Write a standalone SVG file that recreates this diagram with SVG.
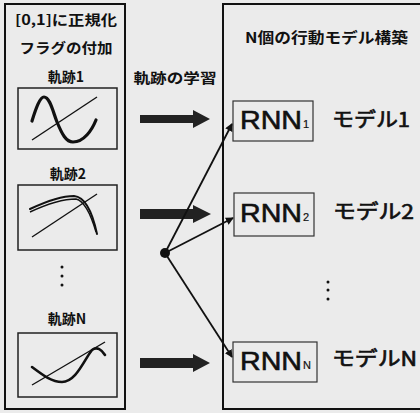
<svg xmlns="http://www.w3.org/2000/svg" width="420" height="413" viewBox="0 0 420 413">
<defs>
<style>
.frame{fill:none;stroke:#111;stroke-width:2}
.inner{fill:none;stroke:#222;stroke-width:1.5}
.rnnbox{fill:none;stroke:#333;stroke-width:1.2}
.lbl{font-family:"Noto Sans CJK JP","Liberation Sans",sans-serif;font-weight:bold;fill:#111}
.rnn{font-family:"Liberation Sans",Arial,sans-serif;fill:#111;stroke:#111;stroke-width:0.6}
.model{font-family:"Noto Sans CJK JP","Liberation Sans",sans-serif;font-weight:normal;fill:#111;stroke:#111;stroke-width:0.7;font-size:20px}
.thick{fill:none;stroke:#111;stroke-width:3.2;stroke-linecap:round}
.thin{fill:none;stroke:#111;stroke-width:1.4}
.conn{fill:none;stroke:#111;stroke-width:1.8}
.big{fill:#222}
</style>
<marker id="ah" markerWidth="8" markerHeight="8" refX="7" refY="4" orient="auto" markerUnits="userSpaceOnUse">
<path d="M0,0 L8,4 L0,8 Z" fill="#111"/>
</marker>
</defs>
<rect width="420" height="413" fill="#ebebeb"/>

<g id="left-panel">
<rect class="frame" x="5" y="4" width="120" height="405"/>
<text class="lbl" x="66" y="25" font-size="14" text-anchor="middle" textLength="102" lengthAdjust="spacingAndGlyphs">[0,1]に正規化</text>
<text class="lbl" x="66" y="53" font-size="14" text-anchor="middle" textLength="93" lengthAdjust="spacingAndGlyphs">フラグの付加</text>
</g>

<g id="traj1">
<text class="lbl" x="66" y="82" font-size="14" text-anchor="middle">軌跡1</text>
<rect class="inner" x="18" y="88" width="99" height="61"/>
<path class="thick" d="M32,121 C36,108 40,97 44,97 C50,97 53,112 57,122 C62,134 66,142 73,142 C84,142 92,130 96,120"/>
<path class="thin" d="M32,140 L97,97"/>
</g>

<g id="traj2">
<text class="lbl" x="68" y="179" font-size="14" text-anchor="middle">軌跡2</text>
<rect class="inner" x="18" y="185" width="99" height="65"/>
<path class="thick" style="stroke-width:2" d="M30,209 C45,202 62,196 74,196 C86,197 93,215 97,234"/>
<path class="thin" d="M30,212 C45,205 62,199 76,199 C85,201 91,215 96,232"/>
<path class="thin" d="M32,237 L97,194"/>
</g>

<g id="dots-left" fill="#111">
<circle cx="62" cy="267" r="1.5"/>
<circle cx="62" cy="276" r="1.5"/>
<circle cx="62" cy="285" r="1.5"/>
</g>

<g id="trajN">
<text class="lbl" x="67" y="324" font-size="14" text-anchor="middle">軌跡N</text>
<rect class="inner" x="18" y="333" width="99" height="64"/>
<path class="thick" style="stroke-width:2.6" d="M32,367 C44,376 52,382 62,382 C76,382 84,360 92,350 C97,346 102,350 105,355"/>
<path class="thin" d="M32,385 L105,342"/>
</g>

<g id="learning">
<text class="lbl" x="175" y="83" font-size="14" text-anchor="middle" textLength="83" lengthAdjust="spacingAndGlyphs">軌跡の学習</text>
<polygon class="big" points="140,115 193,115 193,110 210,119 193,128 193,123 140,123"/>
<polygon class="big" points="140,209 193,209 193,205 211,214 193,223 193,219 140,219"/>
<polygon class="big" points="140,358 193,358 193,354 210,363 193,372 193,368 140,368"/>
</g>

<g id="right-panel">
<rect class="frame" x="223" y="4" width="200" height="405"/>
<text class="lbl" x="245" y="43" font-size="15" textLength="163" lengthAdjust="spacingAndGlyphs">N個の行動モデル構築</text>
</g>

<g id="connectors">
<circle cx="165" cy="253" r="5" fill="#111"/>
<line class="conn" x1="165" y1="253" x2="232" y2="124" marker-end="url(#ah)"/>
<line class="conn" x1="165" y1="253" x2="233" y2="218" marker-end="url(#ah)"/>
<line class="conn" x1="165" y1="253" x2="232" y2="357" marker-end="url(#ah)"/>
</g>

<g id="rnn1">
<rect class="rnnbox" x="233" y="101" width="80" height="40"/>
<text class="rnn" x="240" y="129" font-size="25" textLength="62" lengthAdjust="spacingAndGlyphs">RNN</text>
<text class="rnn" x="303" y="128" font-size="11" style="stroke-width:0.2">1</text>
<text class="model" x="332" y="127" textLength="78" lengthAdjust="spacingAndGlyphs">モデル1</text>
</g>

<g id="rnn2">
<rect class="rnnbox" x="234" y="193" width="80" height="43"/>
<text class="rnn" x="240" y="222" font-size="25" textLength="62" lengthAdjust="spacingAndGlyphs">RNN</text>
<text class="rnn" x="303" y="221" font-size="11" style="stroke-width:0.2">2</text>
<text class="model" x="333" y="219" textLength="81" lengthAdjust="spacingAndGlyphs">モデル2</text>
</g>

<g id="dots-right" fill="#111">
<circle cx="328" cy="282" r="1.5"/>
<circle cx="328" cy="290" r="1.5"/>
<circle cx="328" cy="299" r="1.5"/>
</g>

<g id="rnnN">
<rect class="rnnbox" x="233" y="342" width="84" height="40"/>
<text class="rnn" x="240" y="370" font-size="25" textLength="62" lengthAdjust="spacingAndGlyphs">RNN</text>
<text class="rnn" x="303" y="369" font-size="11" style="stroke-width:0.2">N</text>
<text class="model" x="332" y="366" textLength="85" lengthAdjust="spacingAndGlyphs">モデルN</text>
</g>
</svg>
